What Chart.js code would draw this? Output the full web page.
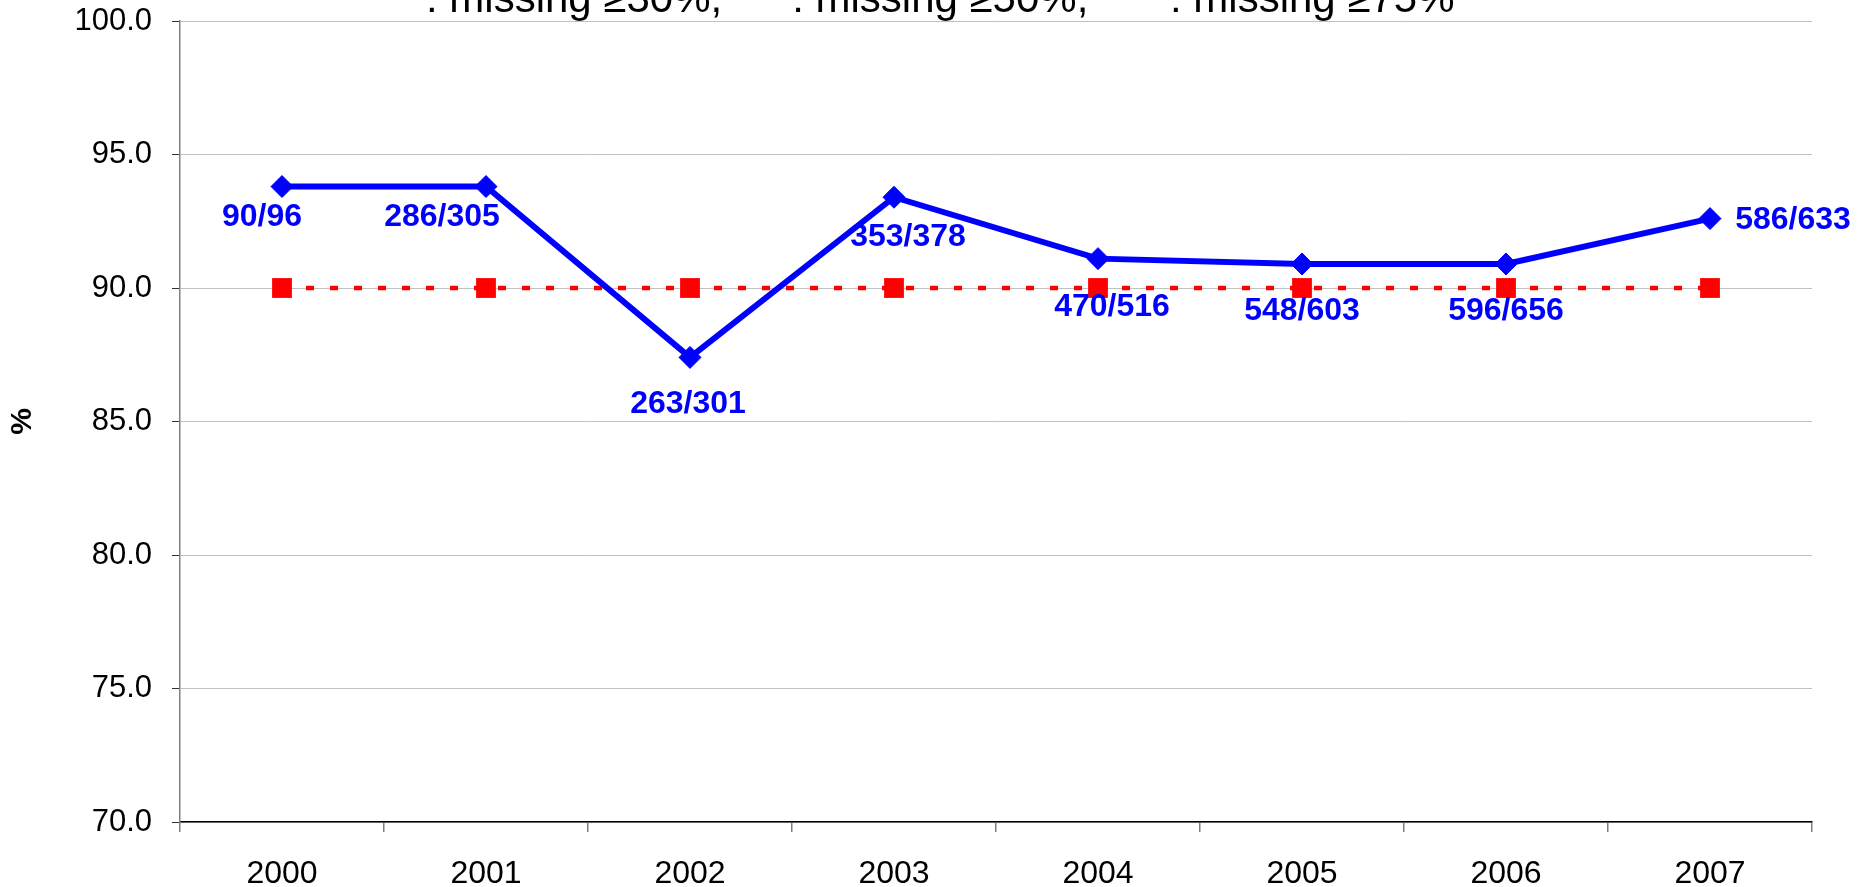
<!DOCTYPE html>
<html>
<head>
<meta charset="utf-8">
<script src="https://cdn.jsdelivr.net/npm/chart.js@4.4.1/dist/chart.umd.min.js"></script>
<style>
  html, body { margin: 0; padding: 0; background: #fff; overflow: hidden; }
  canvas { display: block; }
</style>
</head>
<body>
<canvas id="myChart" width="1858" height="887"></canvas>
<script>
// chart data
const years       = ["2000", "2001", "2002", "2003", "2004", "2005", "2006", "2007"];
const observed    = [93.8, 93.8, 87.4, 93.4, 91.1, 90.9, 90.9, 92.6];
const target      = [90, 90, 90, 90, 90, 90, 90, 90];
const ratioLabels = ["90/96", "286/305", "263/301", "353/378", "470/516", "548/603", "596/656", "586/633"];
const noteText    = ": missing \u226530%,      : missing \u226550%,       : missing \u226575%";

// where each ratio label sits relative to its point
const labelDx = [-20, -44, -2, 14, 14, 0, 0, 83];
const labelDy = [31, 31, 47, 40, 49, 47, 47, 2];

const FONT = '"Liberation Sans", Arial, sans-serif';

const topNote = {
  id: "topNote",
  afterDraw (chart) {
    let ctx = chart.ctx;
    ctx.save();
    ctx.font = `42px ${FONT}`;
    ctx.fillStyle = "#000";
    ctx.textAlign = "left";
    ctx.textBaseline = "alphabetic";
    ctx.fillText(noteText, 426, 12);
    ctx.restore();
  }
};

const ratioText = {
  id: "ratioText",
  afterDatasetsDraw (chart) {
    let ctx  = chart.ctx;
    let meta = chart.getDatasetMeta(0);
    ctx.save();
    ctx.font = `bold 32px ${FONT}`;
    ctx.fillStyle = "#0000ff";
    ctx.textAlign = "center";
    ctx.textBaseline = "middle";
    meta.data.forEach((pt, i) => {
      ctx.fillText(ratioLabels[i], pt.x + labelDx[i], pt.y + labelDy[i]);
    });
    ctx.restore();
  }
};

let ctx   = document.getElementById("myChart");
let chart = new Chart(ctx, {
  type: "line",
  data: {
    labels: years,
    datasets: [{
      label: "observed",
      data: observed,
      borderColor: "#0000ff",
      backgroundColor: "#0000ff",
      borderWidth: 6,
      tension: 0,
      pointStyle: "rectRot",
      pointRadius: 11,
      pointBorderWidth: 1,
      pointBackgroundColor: "#0000ff",
      pointBorderColor: "#0000ff"
    }, {
      label: "target",
      data: target,
      borderColor: "#ff0000",
      backgroundColor: "#ff0000",
      borderWidth: 4.5,
      borderDash: [8, 16],
      tension: 0,
      pointStyle: "rect",
      pointRadius: 14,
      pointBorderWidth: 0,
      pointBackgroundColor: "#ff0000"
    }]
  },
  options: {
    responsive: false,
    animation: false,
    layout: { padding: { top: 0, right: 46, left: 0, bottom: 0 } },
    plugins: {
      legend: { display: false },
      tooltip: { enabled: false }
    },
    scales: {
      x: {
        offset: true,
        grid: {
          offset: true,
          drawOnChartArea: false,
          tickLength: 10,
          color: "#808080",
          lineWidth: 1.5
        },
        border: { color: "#000", width: 1.5 },
        ticks: {
          color: "#000",
          padding: 23,
          font: { family: FONT, size: 32 },
          maxRotation: 0
        },
        afterFit: (axis) => { axis.height = 65; }
      },
      y: {
        min: 70,
        max: 100,
        grid: {
          color: "#c0c0c0",
          lineWidth: 1,
          tickLength: 8,
          tickColor: "#333"
        },
        border: { color: "#808080", width: 1.5 },
        ticks: {
          stepSize: 5,
          color: "#000",
          padding: 20,
          font: { family: FONT, size: 31 },
          callback: (v) => v.toFixed(1)
        },
        title: {
          display: true,
          text: "%",
          color: "#000",
          font: { family: FONT, size: 30, weight: "bold" },
          padding: { top: 5, bottom: 0 }
        },
        afterFit: (axis) => {
          axis.width = 180;
          axis.paddingTop = 21;
          axis.paddingBottom = 0;
        }
      }
    }
  },
  plugins: [topNote, ratioText]
});
</script>
</body>
</html>
